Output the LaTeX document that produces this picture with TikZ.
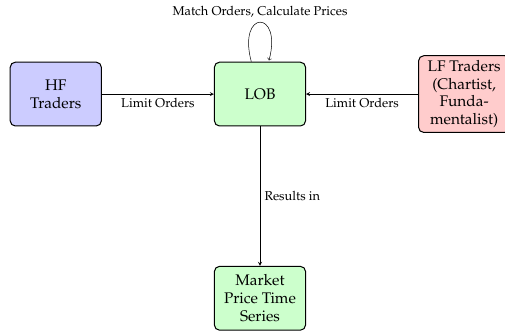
\documentclass[tikz,border=0pt]{standalone}
\usepackage[T1]{fontenc}
\usepackage{mathpazo}
\usepackage{tikz}
\usetikzlibrary{arrows,positioning}

\begin{document}
\begin{tikzpicture}[arrow/.style = {-stealth}, node distance=5.6cm, on grid]
	\tikzset{block/.style={draw,thick,rectangle,rounded corners,minimum width=2.5cm,minimum height=1.75cm,align=center,font=\large}}

	\useasboundingbox (-7.13,-6.53) rectangle (6.72,2.58);

	% Order book and traders
	\node[block, fill=green!20] (lob) at (0,0) {LOB};
	\node[block, fill=blue!20, left=of lob] (hf) {HF\\Traders};
	\node[block, fill=red!20, right=of lob] (lf) {LF Traders\\(Chartist,\\Funda-\\mentalist)};

	% Output
	\node[block, fill=green!20, below=of lob] (mkt) {Market\\Price Time\\Series};

	\draw [arrow] (hf) -- node [below] {Limit Orders} (lob);
	\draw [arrow] (lf) -- node [below] {Limit Orders} (lob);
	\draw [arrow] (lob) -- node [right] {Results in} (mkt);
	\path (lob) edge [arrow, loop above] node [above] {Match Orders, Calculate Prices} (lob);

\end{tikzpicture}
\end{document}
